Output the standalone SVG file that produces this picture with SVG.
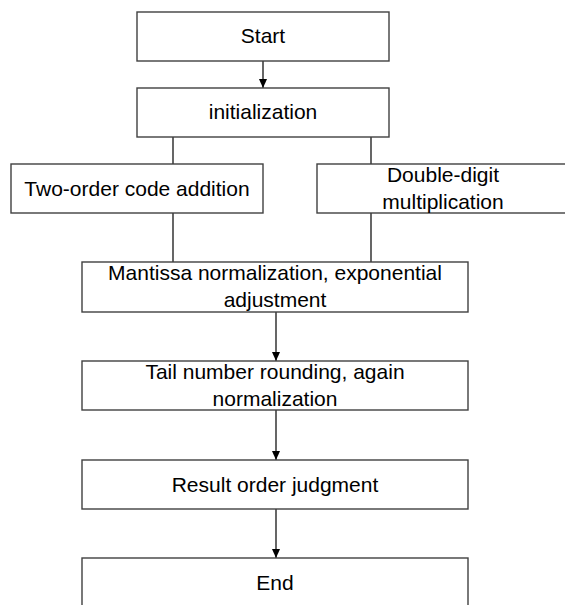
<svg xmlns="http://www.w3.org/2000/svg" width="565" height="605" viewBox="0 0 565 605">
<style>
.box{fill:#fff;stroke:#404040;stroke-width:1.4}
.t{font-family:"Liberation Sans",Arial,sans-serif;font-size:21px;fill:#000;text-anchor:middle}
.c{fill:none;stroke:#262626;stroke-width:1.4}
</style>
<defs>
<marker id="ah" markerWidth="9" markerHeight="8" refX="9" refY="4" orient="auto" markerUnits="userSpaceOnUse">
<path d="M0,0 L9,4 L0,8 Z" fill="#000"/>
</marker>
</defs>
<rect width="565" height="605" fill="#fff"/>
<g id="connectors">
<line class="c" x1="263" y1="61" x2="263" y2="88" marker-end="url(#ah)"/>
<line class="c" x1="173" y1="137" x2="173" y2="164"/>
<line class="c" x1="371" y1="137" x2="371" y2="164"/>
<line class="c" x1="173" y1="213" x2="173" y2="262"/>
<line class="c" x1="371" y1="213" x2="371" y2="262"/>
<line class="c" x1="276" y1="312" x2="276" y2="361" marker-end="url(#ah)"/>
<line class="c" x1="276" y1="410" x2="276" y2="460" marker-end="url(#ah)"/>
<line class="c" x1="276" y1="509" x2="276" y2="558" marker-end="url(#ah)"/>
</g>
<g id="start">
<rect class="box" x="137" y="12" width="252" height="49"/>
<text class="t" x="263" y="43">Start</text>
</g>
<g id="init">
<rect class="box" x="137" y="88" width="252" height="49"/>
<text class="t" x="263" y="119">initialization</text>
</g>
<g id="twoorder">
<rect class="box" x="11" y="164" width="252" height="49"/>
<text class="t" x="137" y="196">Two-order code addition</text>
</g>
<g id="double">
<rect class="box" x="317" y="164" width="260" height="49"/>
<text class="t" x="443" y="182">Double-digit</text>
<text class="t" x="443" y="209">multiplication</text>
</g>
<g id="mantissa">
<rect class="box" x="82" y="262" width="386" height="50"/>
<text class="t" x="275" y="280">Mantissa normalization, exponential</text>
<text class="t" x="275" y="307">adjustment</text>
</g>
<g id="tail">
<rect class="box" x="82" y="361" width="386" height="49"/>
<text class="t" x="275" y="379">Tail number rounding, again</text>
<text class="t" x="275" y="406">normalization</text>
</g>
<g id="result">
<rect class="box" x="82" y="460" width="386" height="49"/>
<text class="t" x="275" y="492">Result order judgment</text>
</g>
<g id="end">
<rect class="box" x="82" y="558" width="386" height="60"/>
<text class="t" x="275" y="590">End</text>
</g>
</svg>
